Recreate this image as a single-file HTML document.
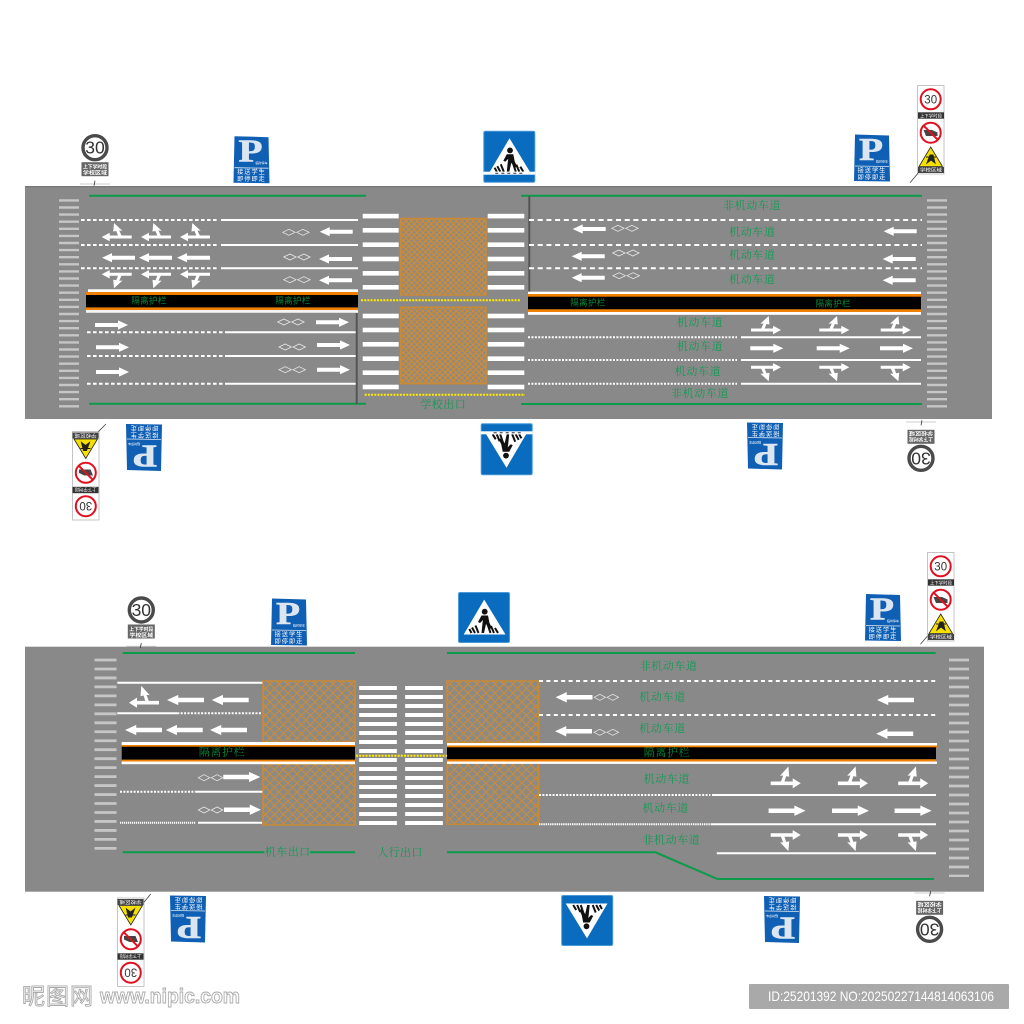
<!DOCTYPE html>
<html><head><meta charset="utf-8"><style>
html,body{margin:0;padding:0;background:#fff}
svg{display:block}
text{font-family:"Liberation Sans","Noto Sans CJK SC",sans-serif}
.g{stroke:#0b9b4b;stroke-width:2;fill:none}
.s{stroke:#fff;stroke-width:2;fill:none}
.d{stroke:#fff;stroke-width:2;fill:none;stroke-dasharray:3.6 2.4}
.d2{stroke:#fff;stroke-width:2;fill:none;stroke-dasharray:5 3.7}
.o{stroke:#fff;stroke-width:2;fill:none;stroke-dasharray:2 1.4}
.y{stroke:#ffec00;stroke-width:2;fill:none;stroke-dasharray:2 1.2}
.st{stroke:#c6c6c6;fill:none}
.l{font-family:"Liberation Serif","Noto Serif CJK SC",serif;font-size:11px;fill:#119a55;text-anchor:middle;dominant-baseline:central;letter-spacing:.6px}
.m{font-family:"Liberation Sans","Noto Sans CJK SC",sans-serif;font-size:8.5px;fill:#0a8a3a;text-anchor:middle;dominant-baseline:central;letter-spacing:.4px}
.m2{font-family:"Liberation Serif","Noto Serif CJK SC",serif;font-size:11px;fill:#0a8a3a;text-anchor:middle;dominant-baseline:central;letter-spacing:.6px}
.h{fill:url(#hat);stroke:#c98a38;stroke-width:1.5}
.h2{fill:url(#hat2);stroke:#c98a38;stroke-width:1.5}
</style></head><body>
<svg width="1024" height="1024" viewBox="0 0 1024 1024" xmlns="http://www.w3.org/2000/svg">
<defs>
<pattern id="hat" width="5.6" height="5.6" patternUnits="userSpaceOnUse">
<rect width="5.6" height="5.6" fill="#8f8a7f"/>
<path d="M0 0L5.6 5.6M5.6 0L0 5.6" stroke="#cf8b36" stroke-width="1.2"/>
</pattern>
<pattern id="hat2" width="9" height="9" patternUnits="userSpaceOnUse">
<rect width="9" height="9" fill="#8c8a84"/>
<path d="M0 0L9 9M9 0L0 9" stroke="#cf8b36" stroke-width="1"/>
</pattern>
<path id="a" fill="#fff" d="M0 -2H23V-4.6L33 0L23 4.6V2H0Z"/>
<path id="c" fill="#fff" d="M0 -1.5H22V-4.2L30 0L22 4.2V1.5H0ZM10 -1L12.5 -6.5L9.3 -6.3L17.7 -14L18.5 -5.5L15.5 -6L13.5 -1Z"/>
<path id="dm" fill="none" stroke="#e8e8e8" stroke-width=".8" d="M0 0L6.2 -3L12.4 0L6.2 3ZM14 0L20.2 -3L26.4 0L20.2 3Z"/>

<g id="P">
<path d="M1 .5L35 1.5L36 47.5L0 47Z" fill="#0f5fb4"/>
<path d="M1 32L35 32.5" stroke="#dfe8f2" stroke-width=".8"/>
<text x="5" y="26" font-size="32" font-weight="bold" textLength="24" lengthAdjust="spacingAndGlyphs" stroke="#dbe6f0" stroke-width=".6" style="font-family:'Liberation Serif',serif" fill="#dbe6f0">P</text>
<text x="22" y="28.5" font-size="3" fill="#fff">临时停车</text>
<text x="18" y="38.5" font-size="6.2" fill="#fff" text-anchor="middle" letter-spacing="1">接送学生</text>
<text x="18" y="45.5" font-size="6.2" fill="#fff" text-anchor="middle" letter-spacing="1">即停即走</text>
</g>

<g id="ped">
<path d="M26.2 7.6L47.5 42.5H5.7Z" fill="#fff"/>
<circle cx="26.7" cy="19.7" r="2.9" fill="#111"/>
<path d="M23.5 23.5L30 23.5L31.5 31L34 36L31.5 37L28 32L26 41L23.5 41L24.5 31L25 28L22 31L20 30Z" fill="#111"/>
<path d="M11.3 37L13.5 41M14 35.5L17 41M17.5 33.5L20.5 41M29.5 32L32.5 41M33 34L36 41M37 36L40 41" stroke="#111" stroke-width="2" fill="none"/>
</g>
<g id="signA">
<rect x=".5" y=".5" width="51" height="50" rx="1.5" fill="#0a6cbf" stroke="#4a9ad8"/>
<use href="#ped"/>
</g>
<g id="signB">
<rect x=".5" y=".5" width="51" height="51" rx="1.5" fill="#0a6cbf" stroke="#4a9ad8"/>
<use href="#ped"/>
<rect x="0" y="41" width="52" height="3" fill="#fff"/>
<path d="M12 42.5H41" stroke="#333" stroke-width="1" stroke-dasharray="3 3"/>
</g>

<g id="sp">
<circle r="12" fill="#fff" stroke="#4a4a4a" stroke-width="3.4"/>
<text y="6" font-size="17.5" fill="#333" text-anchor="middle">30</text>
<rect x="-13.5" y="14.5" width="27" height="14" fill="#666"/>
<text y="21" font-size="5" font-weight="bold" fill="#fff" text-anchor="middle" textLength="24" lengthAdjust="spacingAndGlyphs">上下学时段</text>
<text y="27" font-size="5" font-weight="bold" fill="#fff" text-anchor="middle" textLength="24" lengthAdjust="spacingAndGlyphs">学校区域</text>
<path d="M-15 36.3H15" stroke="#bbb" stroke-width=".8"/>
<path d="M0 33L-1 38" stroke="#333" stroke-width=".8"/>
</g>

<g id="tall">
<rect x=".5" y=".5" width="26.5" height="88.5" fill="#fff" stroke="#c4c4c4"/>
<circle cx="13.7" cy="14.3" r="10" fill="#fff" stroke="#e01020" stroke-width="2"/>
<text x="13.7" y="18.4" font-size="11.5" fill="#333" text-anchor="middle">30</text>
<rect x="1" y="27.3" width="26" height="6.4" fill="#333"/>
<text x="14" y="32.3" font-size="4.6" fill="#fff" text-anchor="middle" textLength="22" lengthAdjust="spacingAndGlyphs">上下学时段</text>
<circle cx="13.7" cy="47.7" r="10" fill="#fff" stroke="#e01020" stroke-width="2"/>
<path d="M6.5 45H15L20.5 47.5V51H9Z" fill="#444"/>
<path d="M6.6 40.6L20.8 54.8" stroke="#e01020" stroke-width="2"/>
<path d="M13.7 62L25.5 81.5H2Z" fill="#f6e000" stroke="#222" stroke-width=".8"/>
<path d="M10 78L13 70L16 70L18 78L14 75ZM9 72L19 72" stroke="#222" stroke-width="1" fill="#222"/>
<rect x="1" y="82" width="26" height="6" fill="#444"/>
<text x="14" y="86.6" font-size="4.6" fill="#fff" text-anchor="middle" textLength="22" lengthAdjust="spacingAndGlyphs">学校区域</text>
</g>
</defs>

<rect width="1024" height="1024" fill="#fff"/>

<!-- ======== TOP ROAD ======== -->
<rect x="25" y="186" width="967" height="233" fill="#898989"/>
<rect x="25" y="186" width="967" height="1.2" fill="#777"/>

<path class="g" d="M89 195.7H366M89 403.7H366M521 195.7H922M521 404H922"/>
<path class="st" stroke-width="20" stroke-dasharray="2.4 4.7" d="M69 199.2V408"/>
<path class="st" stroke-width="20" stroke-dasharray="2.4 4.7" d="M937 199.2V408"/>

<path class="d" d="M81 220H217M81 245H217M81 268.3H217M87 332.3H227M87 356H227M87 383.7H227"/>
<path class="s" d="M221 220H358M221 245H358M221 268.3H358M227 332.3H357M227 356H357M227 383.7H357"/>
<path d="M356.7 313V404" stroke="#555" stroke-width="2"/>
<path d="M529.3 196V293" stroke="#555" stroke-width="2"/>

<!-- left median -->
<rect x="88" y="289.3" width="270" height="3" fill="#fff"/>
<rect x="86" y="292" width="272" height="3.4" fill="#f08000"/>
<rect x="86" y="295" width="272" height="12.6" fill="#000"/>
<rect x="86" y="307.4" width="272" height="2.8" fill="#f08000"/>
<rect x="86" y="310" width="272" height="2.8" fill="#f4f4f4"/>
<text class="m" x="149" y="300.7">隔离护栏</text>
<text class="m" x="293" y="300.7">隔离护栏</text>

<!-- right median -->
<rect x="528" y="291.7" width="393" height="2.6" fill="#fff"/>
<rect x="528" y="294" width="393" height="3" fill="#f08000"/>
<rect x="528" y="296.7" width="393" height="12.7" fill="#000"/>
<rect x="528" y="309.3" width="393" height="2.8" fill="#f08000"/>
<rect x="528" y="312" width="393" height="2.8" fill="#fff"/>
<text class="m" x="588" y="302.7">隔离护栏</text>
<text class="m" x="833.3" y="303.3">隔离护栏</text>

<!-- left arrows top -->
<use href="#c" transform="translate(131.7 237) scale(-1 1)"/>
<use href="#c" transform="translate(171 237) scale(-1 1)"/>
<use href="#c" transform="translate(210 237) scale(-1 1)"/>
<use href="#a" transform="translate(135 257.7) scale(-1 1)"/>
<use href="#a" transform="translate(172 257.7) scale(-1 1)"/>
<use href="#a" transform="translate(210 257.7) scale(-1 1)"/>
<use href="#c" transform="translate(131.7 274.3) scale(-1 -1)"/>
<use href="#c" transform="translate(171 274.3) scale(-1 -1)"/>
<use href="#c" transform="translate(210 274.3) scale(-1 -1)"/>
<use href="#a" transform="translate(352.7 231.7) scale(-1 1)"/>
<use href="#a" transform="translate(352 259) scale(-1 1)"/>
<use href="#a" transform="translate(352 280.3) scale(-1 1)"/>
<use href="#dm" transform="translate(282.7 232.3)"/>
<use href="#dm" transform="translate(283.7 257)"/>
<use href="#dm" transform="translate(283.7 279.7)"/>
<use href="#a" transform="translate(316 322.3)"/>
<use href="#a" transform="translate(317 345)"/>
<use href="#a" transform="translate(317 369.7)"/>
<use href="#a" transform="translate(95 325)"/>
<use href="#a" transform="translate(96 347.3)"/>
<use href="#a" transform="translate(96 372)"/>
<use href="#dm" transform="translate(277.7 322)"/>
<use href="#dm" transform="translate(279 347)"/>
<use href="#dm" transform="translate(279 369.7)"/>

<!-- crossing -->
<g fill="#fff">
<rect x="362.7" y="213.8" width="36" height="4.6"/><rect x="362.7" y="228" width="36" height="4.6"/><rect x="362.7" y="242.4" width="36" height="4.6"/><rect x="362.7" y="256.7" width="36" height="4.6"/><rect x="362.7" y="271" width="36" height="4.6"/><rect x="362.7" y="285" width="36" height="4.6"/>
<rect x="362.7" y="313.7" width="36" height="4.6"/><rect x="362.7" y="327.7" width="36" height="4.6"/><rect x="362.7" y="342" width="36" height="4.6"/><rect x="362.7" y="356.4" width="36" height="4.6"/><rect x="362.7" y="370.4" width="36" height="4.6"/><rect x="362.7" y="384.7" width="36" height="4.6"/>
<rect x="487.7" y="213.8" width="36.6" height="4.6"/><rect x="487.7" y="228" width="36.6" height="4.6"/><rect x="487.7" y="242.4" width="36.6" height="4.6"/><rect x="487.7" y="256.7" width="36.6" height="4.6"/><rect x="487.7" y="271" width="36.6" height="4.6"/><rect x="487.7" y="285" width="36.6" height="4.6"/>
<rect x="487.7" y="313.7" width="36.6" height="4.6"/><rect x="487.7" y="327.7" width="36.6" height="4.6"/><rect x="487.7" y="342" width="36.6" height="4.6"/><rect x="487.7" y="356.4" width="36.6" height="4.6"/><rect x="487.7" y="370.4" width="36.6" height="4.6"/><rect x="487.7" y="384.7" width="36.6" height="4.6"/>
</g>
<rect class="h" x="400.5" y="218.5" width="85.5" height="76.5"/>
<rect class="h" x="400.5" y="307.2" width="85.5" height="76.5"/>
<path class="y" d="M361 300.3H521M364.7 394.7H525"/>
<text class="l" x="443.3" y="405" style="letter-spacing:.5px">学校出口</text>

<!-- right section -->
<path class="d2" d="M529 220H922M529 245H922M529 268.3H922"/>
<path class="o" d="M528 337.3H737M528 360H737M528 383.7H737"/>
<path class="s" d="M741 337.3H921M741 360H921M741 383.7H921"/>
<use href="#a" transform="translate(605.7 229) scale(-1 1)"/>
<use href="#a" transform="translate(604.7 256.3) scale(-1 1)"/>
<use href="#a" transform="translate(604.7 277.7) scale(-1 1)"/>
<use href="#dm" transform="translate(611.7 228.3)"/>
<use href="#dm" transform="translate(612.7 253)"/>
<use href="#dm" transform="translate(613 275.7)"/>
<use href="#a" transform="translate(916.7 231.3) scale(-1 1)"/>
<use href="#a" transform="translate(915.7 259) scale(-1 1)"/>
<use href="#a" transform="translate(915.7 280.3) scale(-1 1)"/>
<use href="#c" transform="translate(751 330)"/>
<use href="#c" transform="translate(819.3 330)"/>
<use href="#c" transform="translate(880.7 330)"/>
<use href="#a" transform="translate(750.3 348.3)"/>
<use href="#a" transform="translate(816.7 348.3)"/>
<use href="#a" transform="translate(880 348.3)"/>
<use href="#c" transform="translate(751 367.3) scale(1 -1)"/>
<use href="#c" transform="translate(819.3 367.3) scale(1 -1)"/>
<use href="#c" transform="translate(880.7 367.3) scale(1 -1)"/>
<text class="l" x="752" y="206">非机动车道</text>
<text class="l" x="752.3" y="232.3">机动车道</text>
<text class="l" x="752.3" y="255.7">机动车道</text>
<text class="l" x="752.3" y="280">机动车道</text>
<text class="l" x="700" y="323">机动车道</text>
<text class="l" x="700" y="347">机动车道</text>
<text class="l" x="698" y="372">机动车道</text>
<text class="l" x="700" y="394">非机动车道</text>

<!-- top road signs -->
<use href="#sp" transform="translate(95 147.7)"/>
<use href="#P" transform="translate(233.5 135.7)"/>
<use href="#signB" transform="translate(483.3 130.7)"/>
<use href="#P" transform="translate(854 134)"/>
<use href="#tall" transform="translate(917 85)"/>
<path d="M918 173.3L910 182.7" stroke="#444" stroke-width=".8"/>
<use href="#P" transform="translate(162 471.5) rotate(180)"/>
<use href="#signB" transform="translate(532.7 475.3) rotate(180)"/>
<use href="#P" transform="translate(783 470) rotate(180)"/>
<use href="#sp" transform="translate(921 458.3) rotate(180)"/>
<use href="#tall" transform="translate(99.5 520.5) rotate(180)"/>
<path d="M98.3 431.7L106 424" stroke="#444" stroke-width=".8"/>

<!-- ======== BOTTOM ROAD ======== -->
<rect x="25" y="646.7" width="959" height="245" fill="#898989"/>
<path class="g" d="M122.7 653H355M447 653H935.7"/>
<path class="g" d="M122.7 852.3H264.3M310 852.3H355"/>
<path class="g" d="M447 852.3H655.4L717.5 879H934"/>
<text class="l" x="287.7" y="852.5" style="letter-spacing:.4px">机车出口</text>
<text class="l" x="400" y="853" style="letter-spacing:.4px">人行出口</text>

<path class="st" stroke-width="22" stroke-dasharray="2.8 6.17" d="M105.5 658.6V850"/>
<path class="st" stroke-width="20" stroke-dasharray="2.8 6.2" d="M959 658.6V877"/>

<rect class="h2" x="263" y="681" width="92" height="61"/>
<rect class="h2" x="263" y="764" width="92" height="61"/>
<rect class="h2" x="447" y="681" width="91.6" height="61.3"/>
<rect class="h2" x="447" y="762.5" width="91.6" height="61.8"/>

<path stroke="#fff" stroke-width="37.7" stroke-dasharray="4 5" fill="none" d="M378 686V825"/>
<path stroke="#fff" stroke-width="37.7" stroke-dasharray="4 5" fill="none" d="M424 686V825"/>

<!-- medians -->
<rect x="121.7" y="742" width="233.3" height="3" fill="#fff"/>
<rect x="121.7" y="745" width="233.3" height="2" fill="#f08000"/>
<rect x="121.7" y="746.7" width="233.3" height="13" fill="#000"/>
<rect x="121.7" y="759.7" width="233.3" height="2" fill="#f08000"/>
<rect x="121.7" y="761.5" width="233.3" height="2.7" fill="#fff"/>
<text class="m2" x="222" y="752.7">隔离护栏</text>
<rect x="447" y="743" width="490" height="2.6" fill="#fff"/>
<rect x="447" y="745.5" width="490" height="2" fill="#f08000"/>
<rect x="447" y="747.3" width="489" height="12" fill="#000"/>
<rect x="447" y="759.3" width="489" height="2.2" fill="#f08000"/>
<rect x="447" y="761.5" width="490" height="2.4" fill="#fff"/>
<text class="m2" x="667" y="753">隔离护栏</text>
<path class="y" d="M356 755.7H447"/>

<path class="s" d="M117.3 682.7H262.3M117.3 713.3H177.3M195.3 791.7H262.3M198 822.7H262"/>
<path class="o" d="M177.3 713.3H262M120 791.7H195.3"/>
<path class="s" stroke-dasharray="1.2 .8" d="M120 822.7H196"/>
<use href="#c" transform="translate(159 702.7) scale(-1 1.2)"/>
<use href="#a" transform="translate(204 700) scale(-1.12 1.12)"/>
<use href="#a" transform="translate(248.7 700) scale(-1.12 1.12)"/>
<use href="#a" transform="translate(162 730) scale(-1.12 1.12)"/>
<use href="#a" transform="translate(202.7 730) scale(-1.12 1.12)"/>
<use href="#a" transform="translate(247 730) scale(-1.12 1.12)"/>
<use href="#a" transform="translate(223.3 777) scale(1.12)"/>
<use href="#a" transform="translate(224 809.7) scale(1.12)"/>
<use href="#dm" transform="translate(198.3 777.7) scale(.93 1)"/>
<use href="#dm" transform="translate(198.3 810) scale(.93 1)"/>

<!-- right -->
<path class="d" d="M539 681H936.4M539 715H936.4" style="stroke-dasharray:4 3.4"/>
<path class="o" d="M539 795H710.4"/>
<path class="s" stroke-dasharray="1.4 .8" d="M539 824.3H712"/>
<path class="s" d="M712 795H936M712 824.3H936M716.8 853.3H936"/>
<use href="#a" transform="translate(592.5 697.3) scale(-1.12 1.12)"/>
<use href="#a" transform="translate(592 731.3) scale(-1.12 1.12)"/>
<use href="#dm" transform="translate(594 697.3) scale(.93 1)"/>
<use href="#dm" transform="translate(594 732.3) scale(.93 1)"/>
<use href="#a" transform="translate(914 700) scale(-1.12 1.12)"/>
<use href="#a" transform="translate(913.2 733.7) scale(-1.12 1.12)"/>
<use href="#c" transform="translate(770.7 783.3) scale(1 1.2)"/>
<use href="#c" transform="translate(837.9 783.3) scale(1 1.2)"/>
<use href="#c" transform="translate(898.2 783.3) scale(1 1.2)"/>
<use href="#a" transform="translate(768.6 810.7) scale(1.12)"/>
<use href="#a" transform="translate(832 810.7) scale(1.12)"/>
<use href="#a" transform="translate(894.6 810.7) scale(1.12)"/>
<use href="#c" transform="translate(770.7 835) scale(1 -1.15)"/>
<use href="#c" transform="translate(837.9 835) scale(1 -1.15)"/>
<use href="#c" transform="translate(898.2 835) scale(1 -1.15)"/>
<text class="l" x="668.6" y="666.7">非机动车道</text>
<text class="l" x="662.5" y="697.7">机动车道</text>
<text class="l" x="662.5" y="729">机动车道</text>
<text class="l" x="666.8" y="779.7">机动车道</text>
<text class="l" x="665.7" y="808.7">机动车道</text>
<text class="l" x="671.4" y="840.3">非机动车道</text>

<!-- bottom road signs -->
<use href="#sp" transform="translate(141.3 610)"/>
<use href="#P" transform="translate(271 598)"/>
<use href="#signA" transform="translate(458 592)"/>
<use href="#P" transform="translate(865 593.5)"/>
<use href="#tall" transform="translate(927 552)"/>
<path d="M927.5 636L920.4 644.3" stroke="#444" stroke-width=".8"/>
<use href="#tall" transform="translate(144.5 987) rotate(180)"/>
<path d="M144 902.3L150.7 894" stroke="#444" stroke-width=".8"/>
<use href="#P" transform="translate(206 943) rotate(180)"/>
<use href="#signA" transform="translate(613.2 946) rotate(180)"/>
<use href="#P" transform="translate(800 943.5) rotate(180)"/>
<use href="#sp" transform="translate(929.6 929.3) rotate(180)"/>

<!-- watermark -->
<text x="22" y="1004" font-size="23" fill="#fff" stroke="#aaa" stroke-width=".9" textLength="71" style="font-family:'Liberation Sans','Noto Sans CJK SC',sans-serif">昵图网</text>
<text x="100" y="1003" font-size="20" font-weight="bold" fill="#fff" stroke="#aaa" stroke-width=".9" textLength="140" lengthAdjust="spacingAndGlyphs">www.nipic.com</text>
<rect x="749" y="984" width="260" height="25" rx="1" fill="#a9a9a9"/>
<text x="768" y="1001" font-size="14" fill="#fff" textLength="226" lengthAdjust="spacingAndGlyphs">ID:25201392 NO:20250227144814063106</text>
</svg>
</body></html>
